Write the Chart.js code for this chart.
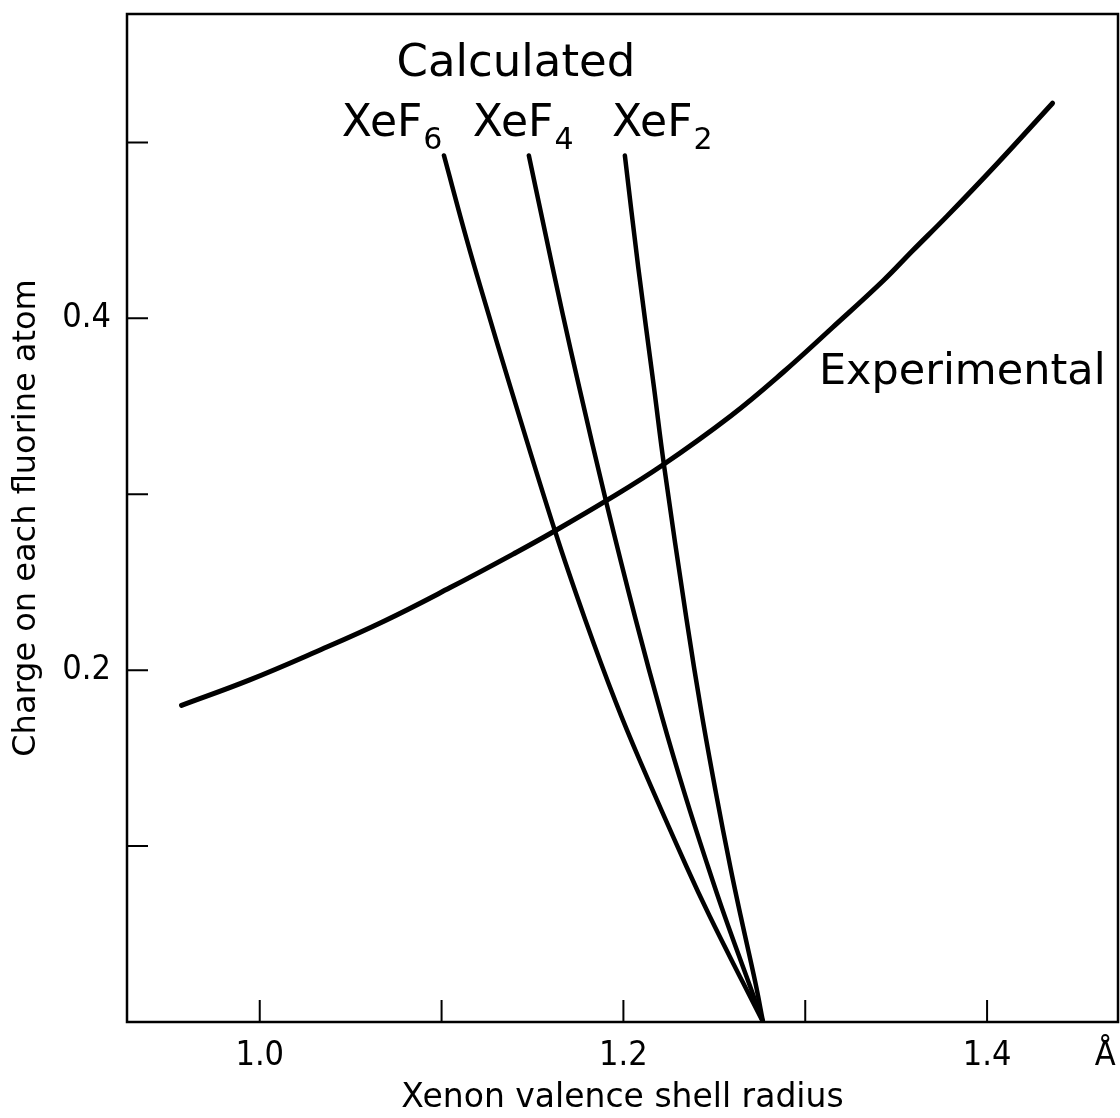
<!DOCTYPE html>
<html>
<head>
<meta charset="utf-8">
<script src="https://cdn.jsdelivr.net/npm/chart.js@4.4.1/dist/chart.umd.min.js"></script>
<style>
  html, body { margin: 0; padding: 0; background: #fff; }
  #wrap { width: 1120px; height: 1118px; position: relative; }
</style>
</head>
<body>
<div id="wrap"><canvas id="chart"></canvas></div>
<script>
// axis marks and labels
const xMarks = [1.0, 1.1, 1.2, 1.3, 1.4];
const xTickLabels = ['1.0', '', '1.2', '', '1.4'];
const xUnit = 'Å';
const xUnitAt = 1.465;
const yMarks = [0.1, 0.2, 0.3, 0.4, 0.5];
const yTickLabels = ['', '0.2', '', '0.4', ''];

// Experimental curve
const expX = [0.957, 0.9945, 1.031, 1.068, 1.1045, 1.141, 1.161, 1.1915, 1.221, 1.259, 1.288, 1.315, 1.343, 1.359, 1.378, 1.4055, 1.436];
const expY = [0.180, 0.1945, 0.2105, 0.2277, 0.2468, 0.2669, 0.2784, 0.2969, 0.3162, 0.3445, 0.3695, 0.3948, 0.4215, 0.4384, 0.4581, 0.4879, 0.5223];

// Calculated curves
const xef6X = [1.1013, 1.1138, 1.1234, 1.1379, 1.1626, 1.1789, 1.1958, 1.2094, 1.2348, 1.2474, 1.2656, 1.2768];
const xef6Y = [0.4926, 0.4449, 0.4108, 0.3608, 0.2784, 0.2290, 0.1818, 0.1477, 0.0881, 0.0602, 0.0227, 0.0];
const xef4X = [1.1480, 1.1558, 1.1664, 1.1757, 1.1903, 1.2067, 1.2211, 1.2341, 1.2466, 1.2557, 1.2688, 1.2768];
const xef4Y = [0.4926, 0.4545, 0.4034, 0.3608, 0.2966, 0.2290, 0.1739, 0.1284, 0.0881, 0.0602, 0.0227, 0.0];
const xef2X = [1.2008, 1.2081, 1.2168, 1.2224, 1.2347, 1.2429, 1.2508, 1.2588, 1.2645, 1.2725, 1.2768];
const xef2Y = [0.4926, 0.4295, 0.3608, 0.3159, 0.2290, 0.1761, 0.1307, 0.0881, 0.0602, 0.0227, 0.0];

const FONT = '"DejaVu Sans", "Noto Sans", sans-serif';
const NARROW = '"DejaVu Sans Condensed", "DejaVu Sans", sans-serif';

const toPoints = (xs, ys) => xs.map((x, i) => ({ x, y: ys[i] }));

function lineSet(label, xs, ys, width) {
  return {
    label,
    data: toPoints(xs, ys),
    showLine: true,
    borderColor: '#000',
    borderWidth: width,
    borderCapStyle: 'round',
    pointRadius: 0,
    tension: 0.4,
    fill: false
  };
}

function labelFor(marks, labels, value) {
  const i = marks.findIndex(m => Math.abs(m - value) < 1e-6);
  return i >= 0 ? labels[i] : '';
}

// frame, inward tick marks and curve names
const decorations = {
  id: 'decorations',
  afterDatasetsDraw(chart) {
    const { ctx, chartArea: a, scales: { x, y } } = chart;
    ctx.save();
    ctx.strokeStyle = '#000';
    ctx.lineWidth = 2.5;
    ctx.strokeRect(a.left, a.top, a.right - a.left, a.bottom - a.top);

    ctx.lineWidth = 2;
    ctx.beginPath();
    xMarks.forEach(v => {
      const px = x.getPixelForValue(v);
      ctx.moveTo(px, a.bottom);
      ctx.lineTo(px, a.bottom - 22);
    });
    yMarks.forEach(v => {
      const py = y.getPixelForValue(v);
      ctx.moveTo(a.left, py);
      ctx.lineTo(a.left + 21, py);
    });
    ctx.stroke();

    ctx.fillStyle = '#000';
    ctx.textBaseline = 'alphabetic';
    ctx.font = '45px ' + FONT;
    ctx.textAlign = 'center';
    ctx.fillText('Calculated', x.getPixelForValue(1.1409), y.getPixelForValue(0.5375));

    ctx.textAlign = 'left';
    ctx.font = '43px ' + FONT;
    ctx.fillText('Experimental', x.getPixelForValue(1.3075), y.getPixelForValue(0.3625));

    const formulas = [['6', 1.0451], ['4', 1.1172], ['2', 1.1937]];
    formulas.forEach(([sub, at]) => {
      const px = x.getPixelForValue(at);
      const py = y.getPixelForValue(0.5034);
      ctx.font = '44px ' + FONT;
      ctx.fillText('XeF', px, py);
      const w = ctx.measureText('XeF').width;
      ctx.font = '30px ' + FONT;
      ctx.fillText(sub, px + w + 1, py + 13);
    });
    ctx.restore();
  }
};

new Chart(document.getElementById('chart'), {
  type: 'scatter',
  data: {
    datasets: [
      lineSet('Experimental', expX, expY, 5),
      lineSet('XeF6', xef6X, xef6Y, 4.5),
      lineSet('XeF4', xef4X, xef4Y, 4.5),
      lineSet('XeF2', xef2X, xef2Y, 4.5)
    ]
  },
  options: {
    responsive: true,
    maintainAspectRatio: false,
    animation: false,
    layout: { padding: { top: 14, right: 2, left: 0, bottom: 0 } },
    plugins: {
      legend: { display: false },
      tooltip: { enabled: false }
    },
    scales: {
      x: {
        type: 'linear',
        min: 0.927,
        max: 1.472,
        grid: { display: false },
        border: { display: false },
        afterBuildTicks: scale => {
          scale.ticks = xMarks.concat([xUnitAt]).map(value => ({ value }));
        },
        afterFit: scale => {
          scale.height = 96;
          scale.paddingLeft = 0;
          scale.paddingRight = 0;
        },
        ticks: {
          autoSkip: false,
          maxRotation: 0,
          padding: 6,
          color: '#000',
          font: { family: NARROW, size: 34 },
          callback: value => Math.abs(value - xUnitAt) < 1e-6 ? xUnit : labelFor(xMarks, xTickLabels, value)
        },
        title: {
          display: true,
          text: 'Xenon valence shell radius',
          color: '#000',
          font: { family: FONT, size: 33 },
          padding: { top: 0, bottom: 0 }
        }
      },
      y: {
        type: 'linear',
        min: 0,
        max: 0.573,
        grid: { display: false },
        border: { display: false },
        afterBuildTicks: scale => {
          scale.ticks = yMarks.map(value => ({ value }));
        },
        afterFit: scale => {
          scale.width = 127;
          scale.paddingTop = 0;
          scale.paddingBottom = 0;
        },
        ticks: {
          autoSkip: false,
          padding: 8,
          color: '#000',
          font: { family: NARROW, size: 34 },
          callback: value => labelFor(yMarks, yTickLabels, value)
        },
        title: {
          display: true,
          text: 'Charge on each fluorine atom',
          color: '#000',
          font: { family: FONT, size: 32 },
          padding: { top: 7, bottom: 0 }
        }
      }
    }
  },
  plugins: [decorations]
});
</script>
</body>
</html>
